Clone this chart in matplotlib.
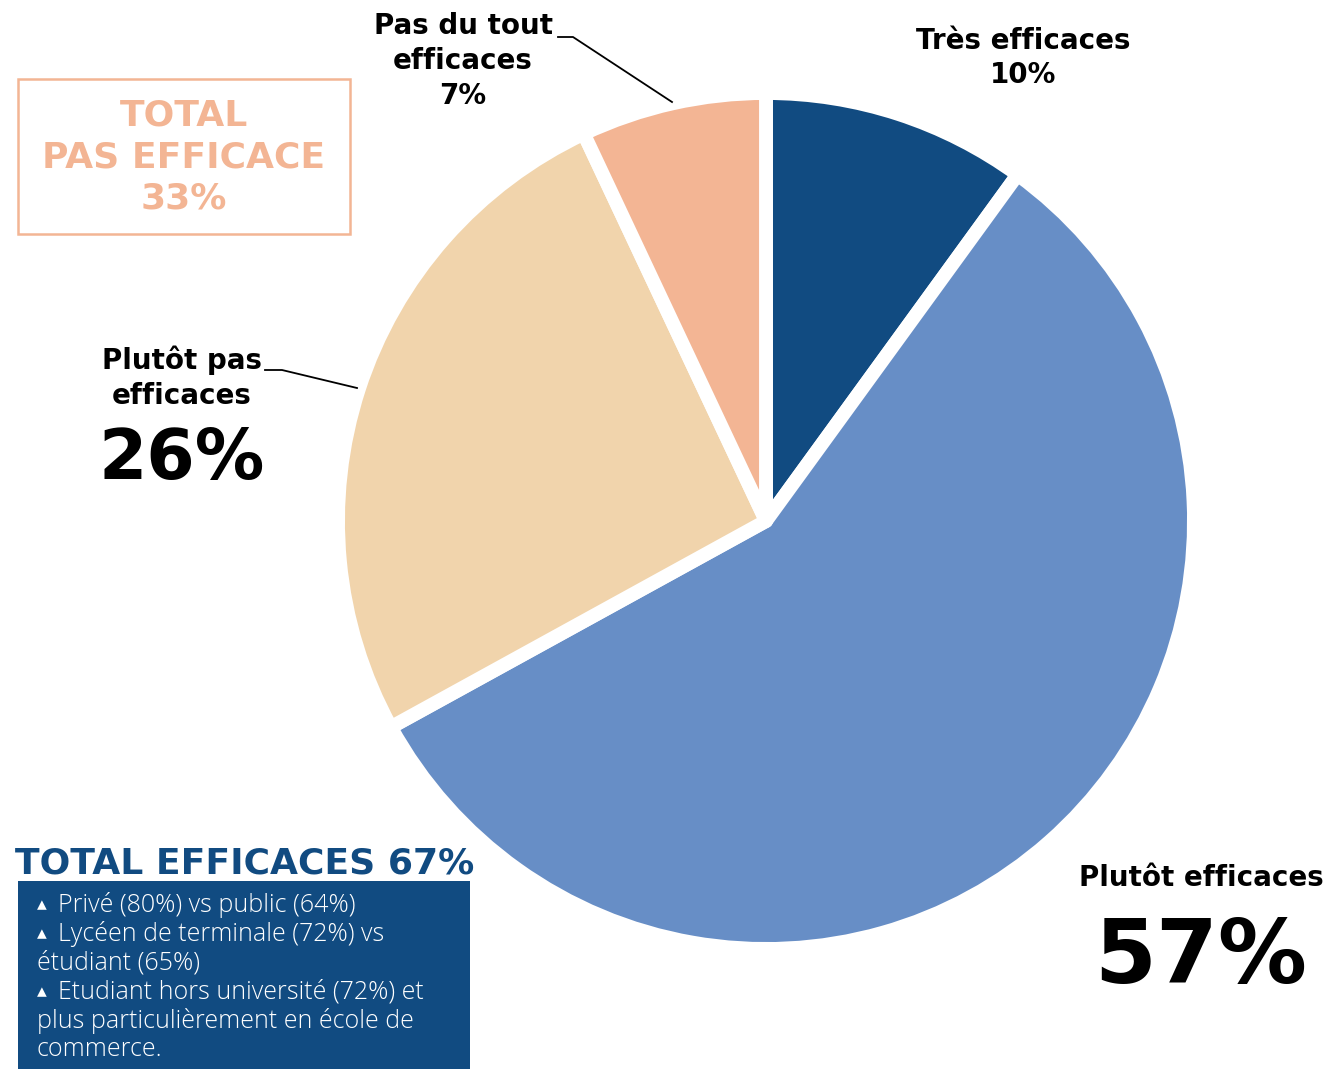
import matplotlib.pyplot as plt
from matplotlib.patches import Rectangle

labels = ['Très efficaces', 'Plutôt efficaces', 'Plutôt pas efficaces', 'Pas du tout efficaces']
values = [10, 57, 26, 7]
colors = ['#114B81', '#678EC6', '#F1D4AC', '#F3B594']

total_eff = 67
total_pas = 33
# (has bullet, text)
notes = [(True, 'Privé (80%) vs public (64%)'),
         (True, 'Lycéen de terminale (72%) vs'),
         (False, 'étudiant (65%)'),
         (True, 'Etudiant hors université (72%) et'),
         (False, 'plus particulièrement en école de'),
         (False, 'commerce.')]

W, H = 1331, 1069
fig = plt.figure(figsize=(W / 100, H / 100), dpi=100)
ax = fig.add_axes([0, 0, 1, 1])

# y axis is flipped, so start at -90 (top) and go "counterclock" (= clockwise on screen)
ax.pie(values, colors=colors, startangle=-90, counterclock=True,
       center=(766, 521), radius=428,
       wedgeprops=dict(edgecolor='white', linewidth=10, joinstyle='round'))
ax.set_xlim(0, W)
ax.set_ylim(H, 0)
ax.set_aspect('equal')
ax.axis('off')

head = dict(family='DejaVu Sans', fontweight='bold', color='black', ha='center', va='center')

# slice labels
ax.text(1023, 58, f'{labels[0]}\n{values[0]}%', fontsize=20, linespacing=1.3, **head)
ax.text(463, 61, f'Pas du tout\nefficaces\n{values[3]}%', fontsize=20, linespacing=1.3, **head)
ax.plot([558, 573, 672], [37, 37, 102], color='black', lw=1.3)
ax.text(182, 378, 'Plutôt pas\nefficaces', fontsize=20, linespacing=1.3, **head)
ax.text(182, 460, f'{values[2]}%', fontsize=50, **head)
ax.plot([265, 282, 357], [370, 370, 388], color='black', lw=1.3)
ax.text(1201, 878, labels[1], fontsize=20, **head)
ax.text(1201, 958, f'{values[1]}%', fontsize=64, **head)

# total pas efficace box
ax.add_patch(Rectangle((18, 79), 332, 155, fill=False, edgecolor='#F3B594', lw=1.8))
ax.text(184, 157, f'TOTAL\nPAS EFFICACE\n{total_pas}%', fontsize=26, linespacing=1.28,
        family='DejaVu Sans', fontweight='bold', color='#F3B594', ha='center', va='center')

# total efficaces box
ax.text(15, 864, f'TOTAL EFFICACES {total_eff}%', fontsize=26, family='DejaVu Sans',
        fontweight='bold', color='#114B81', ha='left', va='center')
ax.add_patch(Rectangle((18, 881), 452, 190, facecolor='#114B81', edgecolor='none'))
for i, (bullet, line) in enumerate(notes):
    y = 905 + i * 29
    if bullet:
        ax.text(37, y, '\u25b4', fontsize=14, family='DejaVu Sans',
                color='white', ha='left', va='center')
        x = 58
    else:
        x = 37
    ax.text(x, y, line, fontsize=18, family='Open Sans',
            fontweight='light', color='white', ha='left', va='center')

fig.savefig('out.png', dpi=100)
